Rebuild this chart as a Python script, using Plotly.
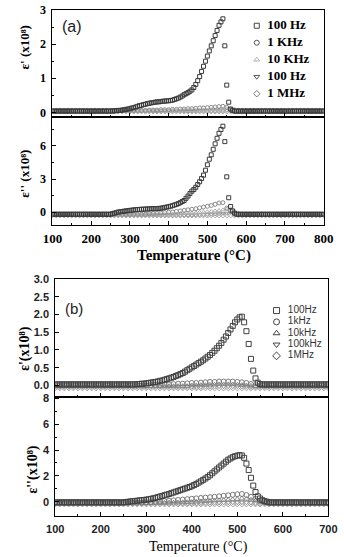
import plotly.graph_objects as go

# ---------------- DATA ----------------
# Temperature grids (°C)
T_a5 = list(range(100, 801, 5))    # panel (a), 100 Hz series
T_a10 = list(range(100, 801, 10))  # panel (a), other frequencies
T_b5 = list(range(100, 701, 5))    # panel (b), 100 Hz series
T_b10 = list(range(100, 701, 10))  # panel (b), other frequencies

freq_a = ["100 Hz", "1 KHz", "10 KHz", "100 Hz", "1 MHz"]
freq_b = ["100Hz", "1kHz", "10kHz", "100kHz", "1MHz"]

# Panel (a)  eps' (x1e8)
a_ep_100 = [
    0.04, 0.04, 0.04, 0.04, 0.04, 0.04, 0.04, 0.04, 0.04, 0.04,
    0.04, 0.04, 0.04, 0.04, 0.04, 0.04, 0.04, 0.04, 0.04, 0.04,
    0.04, 0.04, 0.04, 0.04, 0.04, 0.04, 0.04, 0.04, 0.04, 0.04,
    0.04, 0.04, 0.05, 0.05, 0.06, 0.06, 0.07, 0.08, 0.09, 0.10,
    0.11, 0.13, 0.14, 0.16, 0.18, 0.20, 0.21, 0.23, 0.24, 0.26,
    0.27, 0.28, 0.29, 0.30, 0.31, 0.31, 0.32, 0.33, 0.33, 0.34,
    0.34, 0.35, 0.36, 0.38, 0.40, 0.42, 0.45, 0.48, 0.52, 0.55,
    0.58, 0.62, 0.66, 0.73, 0.82, 0.93, 1.05, 1.20, 1.35, 1.50,
    1.65, 1.80, 1.95, 2.10, 2.25, 2.40, 2.55, 2.65, 2.74, 1.95,
    0.80, 0.30, 0.10, 0.06, 0.04, 0.04, 0.04, 0.04, 0.04, 0.04,
    0.04, 0.04, 0.04, 0.04, 0.04, 0.04, 0.04, 0.04, 0.04, 0.04,
    0.04, 0.04, 0.04, 0.04, 0.04, 0.04, 0.04, 0.04, 0.04, 0.04,
    0.04, 0.04, 0.04, 0.04, 0.04, 0.04, 0.04, 0.04, 0.04, 0.04,
    0.04, 0.04, 0.04, 0.04, 0.04, 0.04, 0.04, 0.04, 0.04, 0.04,
    0.04,
]
a_ep_1k = [
    0.06, 0.06, 0.06, 0.06, 0.06, 0.06, 0.06, 0.06, 0.06, 0.06,
    0.06, 0.06, 0.06, 0.06, 0.06, 0.06, 0.06, 0.06, 0.06, 0.06,
    0.06, 0.06, 0.06, 0.06, 0.06, 0.07, 0.07, 0.07, 0.08, 0.08,
    0.08, 0.09, 0.09, 0.10, 0.10, 0.11, 0.11, 0.12, 0.13, 0.13,
    0.14, 0.15, 0.16, 0.17, 0.18, 0.15, 0.10, 0.07, 0.06, 0.06,
    0.06, 0.06, 0.06, 0.06, 0.06, 0.06, 0.06, 0.06, 0.06, 0.06,
    0.06, 0.06, 0.06, 0.06, 0.06, 0.06, 0.06, 0.06, 0.06, 0.06,
    0.06,
]
a_ep_10k = [
    0.05, 0.05, 0.05, 0.05, 0.05, 0.05, 0.05, 0.05, 0.05, 0.05,
    0.05, 0.05, 0.05, 0.05, 0.05, 0.05, 0.05, 0.05, 0.05, 0.05,
    0.05, 0.05, 0.05, 0.05, 0.05, 0.05, 0.05, 0.05, 0.05, 0.05,
    0.05, 0.05, 0.05, 0.05, 0.06, 0.06, 0.06, 0.06, 0.07, 0.07,
    0.07, 0.08, 0.08, 0.09, 0.10, 0.11, 0.09, 0.07, 0.05, 0.05,
    0.05, 0.05, 0.05, 0.05, 0.05, 0.05, 0.05, 0.05, 0.05, 0.05,
    0.05, 0.05, 0.05, 0.05, 0.05, 0.05, 0.05, 0.05, 0.05, 0.05,
    0.05,
]
a_ep_100k = [
    0.04, 0.04, 0.04, 0.04, 0.04, 0.04, 0.04, 0.04, 0.04, 0.04,
    0.04, 0.04, 0.04, 0.04, 0.04, 0.04, 0.04, 0.04, 0.04, 0.04,
    0.04, 0.04, 0.04, 0.04, 0.04, 0.04, 0.04, 0.04, 0.04, 0.04,
    0.04, 0.04, 0.04, 0.04, 0.04, 0.04, 0.04, 0.04, 0.04, 0.04,
    0.04, 0.04, 0.04, 0.05, 0.05, 0.06, 0.05, 0.04, 0.04, 0.04,
    0.04, 0.04, 0.04, 0.04, 0.04, 0.04, 0.04, 0.04, 0.04, 0.04,
    0.04, 0.04, 0.04, 0.04, 0.04, 0.04, 0.04, 0.04, 0.04, 0.04,
    0.04,
]
a_ep_1M = [
    0.03, 0.03, 0.03, 0.03, 0.03, 0.03, 0.03, 0.03, 0.03, 0.03,
    0.03, 0.03, 0.03, 0.03, 0.03, 0.03, 0.03, 0.03, 0.03, 0.03,
    0.03, 0.03, 0.03, 0.03, 0.03, 0.03, 0.03, 0.03, 0.03, 0.03,
    0.03, 0.03, 0.03, 0.03, 0.03, 0.03, 0.03, 0.03, 0.03, 0.03,
    0.03, 0.03, 0.03, 0.03, 0.03, 0.03, 0.03, 0.03, 0.03, 0.03,
    0.03, 0.03, 0.03, 0.03, 0.03, 0.03, 0.03, 0.03, 0.03, 0.03,
    0.03, 0.03, 0.03, 0.03, 0.03, 0.03, 0.03, 0.03, 0.03, 0.03,
    0.03,
]

# Panel (a)  eps'' (x1e8)
a_epp_100 = [
    -0.2, -0.2, -0.2, -0.2, -0.2, -0.2, -0.2, -0.2, -0.2, -0.2,
    -0.2, -0.2, -0.2, -0.2, -0.2, -0.2, -0.2, -0.2, -0.2, -0.2,
    -0.2, -0.2, -0.2, -0.2, -0.2, -0.2, -0.2, -0.2, -0.2, -0.2,
    -0.2, -0.15, -0.1, -0.05, 0.0, 0.03, 0.05, 0.08, 0.1, 0.12,
    0.15, 0.17, 0.19, 0.21, 0.23, 0.24, 0.25, 0.26, 0.27, 0.28,
    0.29, 0.3, 0.31, 0.31, 0.32, 0.33, 0.34, 0.38, 0.42, 0.45,
    0.48, 0.53, 0.58, 0.64, 0.7, 0.77, 0.85, 0.95, 1.05, 1.25,
    1.45, 1.68, 1.9, 2.05, 2.25, 2.5, 2.75, 3.05, 3.35, 3.8,
    4.3, 4.8, 5.2, 5.7, 6.2, 6.7, 7.15, 7.5, 7.8, 6.4,
    3.2, 1.3, 0.5, 0.1, -0.1, -0.2, -0.2, -0.2, -0.2, -0.2,
    -0.2, -0.2, -0.2, -0.2, -0.2, -0.2, -0.2, -0.2, -0.2, -0.2,
    -0.2, -0.2, -0.2, -0.2, -0.2, -0.2, -0.2, -0.2, -0.2, -0.2,
    -0.2, -0.2, -0.2, -0.2, -0.2, -0.2, -0.2, -0.2, -0.2, -0.2,
    -0.2, -0.2, -0.2, -0.2, -0.2, -0.2, -0.2, -0.2, -0.2, -0.2,
    -0.2,
]
a_epp_1k = [
    -0.2, -0.2, -0.2, -0.2, -0.2, -0.2, -0.2, -0.2, -0.2, -0.2,
    -0.2, -0.2, -0.2, -0.2, -0.2, -0.2, -0.2, -0.2, -0.2, -0.2,
    -0.2, -0.2, -0.2, -0.2, -0.2, -0.15, -0.12, -0.1, -0.08, -0.05,
    -0.02, 0.0, 0.05, 0.1, 0.15, 0.2, 0.25, 0.3, 0.38, 0.45,
    0.52, 0.6, 0.7, 0.82, 0.85, 0.35, 0.1, -0.1, -0.2, -0.2,
    -0.2, -0.2, -0.2, -0.2, -0.2, -0.2, -0.2, -0.2, -0.2, -0.2,
    -0.2, -0.2, -0.2, -0.2, -0.2, -0.2, -0.2, -0.2, -0.2, -0.2,
    -0.2,
]
a_epp_10k = [
    -0.25, -0.25, -0.25, -0.25, -0.25, -0.25, -0.25, -0.25, -0.25, -0.25,
    -0.25, -0.25, -0.25, -0.25, -0.25, -0.25, -0.25, -0.25, -0.25, -0.25,
    -0.25, -0.25, -0.25, -0.25, -0.25, -0.25, -0.25, -0.25, -0.25, -0.25,
    -0.25, -0.2, -0.18, -0.15, -0.12, -0.1, -0.08, -0.05, -0.02, 0.0,
    0.03, 0.06, 0.1, 0.15, 0.2, 0.28, 0.3, 0.1, -0.1, -0.25,
    -0.25, -0.25, -0.25, -0.25, -0.25, -0.25, -0.25, -0.25, -0.25, -0.25,
    -0.25, -0.25, -0.25, -0.25, -0.25, -0.25, -0.25, -0.25, -0.25, -0.25,
    -0.25,
]
a_epp_100k = [
    -0.3, -0.3, -0.3, -0.3, -0.3, -0.3, -0.3, -0.3, -0.3, -0.3,
    -0.3, -0.3, -0.3, -0.3, -0.3, -0.3, -0.3, -0.3, -0.3, -0.3,
    -0.3, -0.3, -0.3, -0.3, -0.3, -0.3, -0.3, -0.3, -0.3, -0.3,
    -0.3, -0.3, -0.3, -0.3, -0.3, -0.3, -0.3, -0.28, -0.26, -0.24,
    -0.22, -0.2, -0.18, -0.15, -0.12, -0.1, -0.05, -0.15, -0.3, -0.3,
    -0.3, -0.3, -0.3, -0.3, -0.3, -0.3, -0.3, -0.3, -0.3, -0.3,
    -0.3, -0.3, -0.3, -0.3, -0.3, -0.3, -0.3, -0.3, -0.3, -0.3,
    -0.3,
]
a_epp_1M = [
    -0.3, -0.3, -0.3, -0.3, -0.3, -0.3, -0.3, -0.3, -0.3, -0.3,
    -0.3, -0.3, -0.3, -0.3, -0.3, -0.3, -0.3, -0.3, -0.3, -0.3,
    -0.3, -0.3, -0.3, -0.3, -0.3, -0.3, -0.3, -0.3, -0.3, -0.3,
    -0.3, -0.3, -0.3, -0.3, -0.3, -0.3, -0.3, -0.3, -0.3, -0.3,
    -0.3, -0.3, -0.3, -0.3, -0.3, -0.3, -0.3, -0.3, -0.3, -0.3,
    -0.3, -0.3, -0.3, -0.3, -0.3, -0.3, -0.3, -0.3, -0.3, -0.3,
    -0.3, -0.3, -0.3, -0.3, -0.3, -0.3, -0.3, -0.3, -0.3, -0.3,
    -0.3,
]

# Panel (b)  eps' (x1e8)
b_ep_100 = [
    0.03, 0.03, 0.03, 0.03, 0.03, 0.03, 0.03, 0.03, 0.03, 0.03,
    0.03, 0.03, 0.03, 0.03, 0.03, 0.03, 0.03, 0.03, 0.03, 0.03,
    0.03, 0.03, 0.03, 0.03, 0.03, 0.03, 0.03, 0.03, 0.03, 0.03,
    0.03, 0.03, 0.03, 0.03, 0.03, 0.03, 0.04, 0.04, 0.05, 0.05,
    0.06, 0.07, 0.08, 0.09, 0.10, 0.11, 0.13, 0.14, 0.16, 0.18,
    0.20, 0.22, 0.24, 0.27, 0.29, 0.32, 0.35, 0.39, 0.43, 0.47,
    0.51, 0.55, 0.59, 0.63, 0.67, 0.71, 0.76, 0.81, 0.86, 0.92,
    0.98, 1.05, 1.12, 1.20, 1.29, 1.38, 1.48, 1.58, 1.68, 1.78,
    1.86, 1.92, 1.94, 1.78, 1.53, 1.17, 0.75, 0.42, 0.20, 0.08,
    0.04, 0.03, 0.03, 0.03, 0.03, 0.03, 0.03, 0.03, 0.03, 0.03,
    0.03, 0.03, 0.03, 0.03, 0.03, 0.03, 0.03, 0.03, 0.03, 0.03,
    0.03, 0.03, 0.03, 0.03, 0.03, 0.03, 0.03, 0.03, 0.03, 0.03,
    0.03,
]
b_ep_1k = [
    0.0, 0.0, 0.0, 0.0, 0.0, 0.0, 0.0, 0.0, 0.0, 0.0,
    0.0, 0.0, 0.0, 0.0, 0.0, 0.0, 0.0, 0.0, 0.0, 0.0,
    0.0, 0.01, 0.02, 0.02, 0.03, 0.03, 0.04, 0.05, 0.05, 0.06,
    0.07, 0.07, 0.08, 0.09, 0.1, 0.1, 0.11, 0.11, 0.11, 0.11,
    0.1, 0.09, 0.07, 0.04, 0.01, 0.0, 0.0, 0.0, 0.0, 0.0,
    0.0, 0.0, 0.0, 0.0, 0.0, 0.0, 0.0, 0.0, 0.0, 0.0,
    0.0,
]
b_ep_10k = [
    -0.02, -0.02, -0.02, -0.02, -0.02, -0.02, -0.02, -0.02, -0.02, -0.02,
    -0.02, -0.02, -0.02, -0.02, -0.02, -0.02, -0.02, -0.02, -0.02, -0.02,
    -0.02, -0.02, -0.02, -0.02, -0.02, -0.02, -0.02, -0.02, -0.02, -0.02,
    0.0, 0.0, 0.01, 0.01, 0.02, 0.02, 0.03, 0.03, 0.03, 0.03,
    0.02, 0.01, 0.0, -0.01, -0.02, -0.02, -0.02, -0.02, -0.02, -0.02,
    -0.02, -0.02, -0.02, -0.02, -0.02, -0.02, -0.02, -0.02, -0.02, -0.02,
    -0.02,
]
b_ep_100k = [
    -0.04, -0.04, -0.04, -0.04, -0.04, -0.04, -0.04, -0.04, -0.04, -0.04,
    -0.04, -0.04, -0.04, -0.04, -0.04, -0.04, -0.04, -0.04, -0.04, -0.04,
    -0.04, -0.04, -0.04, -0.04, -0.04, -0.04, -0.04, -0.04, -0.04, -0.04,
    -0.04, -0.04, -0.04, -0.03, -0.03, -0.03, -0.02, -0.02, -0.02, -0.02,
    -0.02, -0.03, -0.03, -0.04, -0.04, -0.04, -0.04, -0.04, -0.04, -0.04,
    -0.04, -0.04, -0.04, -0.04, -0.04, -0.04, -0.04, -0.04, -0.04, -0.04,
    -0.04,
]
b_ep_1M = [
    -0.06, -0.06, -0.06, -0.06, -0.06, -0.06, -0.06, -0.06, -0.06, -0.06,
    -0.06, -0.06, -0.06, -0.06, -0.06, -0.06, -0.06, -0.06, -0.06, -0.06,
    -0.06, -0.06, -0.06, -0.06, -0.06, -0.06, -0.06, -0.06, -0.06, -0.06,
    -0.06, -0.06, -0.06, -0.06, -0.06, -0.06, -0.06, -0.06, -0.06, -0.06,
    -0.06, -0.06, -0.06, -0.06, -0.06, -0.06, -0.06, -0.06, -0.06, -0.06,
    -0.06, -0.06, -0.06, -0.06, -0.06, -0.06, -0.06, -0.06, -0.06, -0.06,
    -0.06,
]

# Panel (b)  eps'' (x1e8)
b_epp_100 = [
    -0.05, -0.05, -0.05, -0.05, -0.05, -0.05, -0.05, -0.05, -0.05, -0.05,
    -0.05, -0.05, -0.05, -0.05, -0.05, -0.05, -0.05, -0.05, -0.05, -0.05,
    -0.05, -0.05, -0.05, -0.05, -0.05, -0.05, -0.05, -0.05, -0.05, -0.05,
    -0.05, -0.03, 0.0, 0.02, 0.04, 0.06, 0.08, 0.1, 0.12, 0.14,
    0.16, 0.19, 0.22, 0.26, 0.3, 0.35, 0.4, 0.45, 0.5, 0.55,
    0.6, 0.66, 0.72, 0.78, 0.84, 0.9, 0.96, 1.02, 1.08, 1.14,
    1.2, 1.29, 1.38, 1.48, 1.58, 1.69, 1.8, 1.92, 2.05, 2.2,
    2.35, 2.5, 2.65, 2.8, 2.95, 3.1, 3.25, 3.35, 3.45, 3.52,
    3.57, 3.6, 3.58, 3.4, 2.95, 2.45, 1.85, 1.25, 0.75, 0.42,
    0.25, 0.12, 0.05, 0.0, -0.05, -0.05, -0.05, -0.05, -0.05, -0.05,
    -0.05, -0.05, -0.05, -0.05, -0.05, -0.05, -0.05, -0.05, -0.05, -0.05,
    -0.05, -0.05, -0.05, -0.05, -0.05, -0.05, -0.05, -0.05, -0.05, -0.05,
    -0.05,
]
b_epp_1k = [
    -0.08, -0.08, -0.08, -0.08, -0.08, -0.08, -0.08, -0.08, -0.08, -0.08,
    -0.08, -0.08, -0.08, -0.08, -0.08, -0.08, -0.08, -0.08, -0.08, -0.08,
    -0.05, -0.03, 0.0, 0.02, 0.05, 0.08, 0.11, 0.14, 0.17, 0.2,
    0.23, 0.26, 0.29, 0.32, 0.35, 0.38, 0.42, 0.46, 0.5, 0.54,
    0.58, 0.6, 0.52, 0.38, 0.22, 0.08, -0.02, -0.08, -0.08, -0.08,
    -0.08, -0.08, -0.08, -0.08, -0.08, -0.08, -0.08, -0.08, -0.08, -0.08,
    -0.08,
]
b_epp_10k = [
    -0.1, -0.1, -0.1, -0.1, -0.1, -0.1, -0.1, -0.1, -0.1, -0.1,
    -0.1, -0.1, -0.1, -0.1, -0.1, -0.1, -0.1, -0.1, -0.1, -0.1,
    -0.1, -0.1, -0.1, -0.1, -0.1, -0.08, -0.07, -0.06, -0.05, -0.04,
    -0.02, 0.0, 0.02, 0.04, 0.06, 0.08, 0.1, 0.12, 0.14, 0.17,
    0.2, 0.24, 0.22, 0.15, 0.08, 0.0, -0.06, -0.1, -0.1, -0.1,
    -0.1, -0.1, -0.1, -0.1, -0.1, -0.1, -0.1, -0.1, -0.1, -0.1,
    -0.1,
]
b_epp_100k = [
    -0.12, -0.12, -0.12, -0.12, -0.12, -0.12, -0.12, -0.12, -0.12, -0.12,
    -0.12, -0.12, -0.12, -0.12, -0.12, -0.12, -0.12, -0.12, -0.12, -0.12,
    -0.12, -0.12, -0.12, -0.12, -0.12, -0.12, -0.12, -0.12, -0.12, -0.12,
    -0.12, -0.11, -0.1, -0.09, -0.08, -0.07, -0.06, -0.05, -0.05, -0.04,
    -0.04, -0.04, -0.05, -0.07, -0.1, -0.12, -0.12, -0.12, -0.12, -0.12,
    -0.12, -0.12, -0.12, -0.12, -0.12, -0.12, -0.12, -0.12, -0.12, -0.12,
    -0.12,
]
b_epp_1M = [
    -0.15, -0.15, -0.15, -0.15, -0.15, -0.15, -0.15, -0.15, -0.15, -0.15,
    -0.15, -0.15, -0.15, -0.15, -0.15, -0.15, -0.15, -0.15, -0.15, -0.15,
    -0.15, -0.15, -0.15, -0.15, -0.15, -0.15, -0.15, -0.15, -0.15, -0.15,
    -0.15, -0.15, -0.15, -0.15, -0.15, -0.15, -0.15, -0.15, -0.15, -0.15,
    -0.15, -0.15, -0.15, -0.15, -0.15, -0.15, -0.15, -0.15, -0.15, -0.15,
    -0.15, -0.15, -0.15, -0.15, -0.15, -0.15, -0.15, -0.15, -0.15, -0.15,
    -0.15,
]

# ---------------- STYLE ----------------
W, H = 344, 557
SERIF = "Liberation Serif"
SANS = "Liberation Sans"
symbols = ["square-open", "circle-open", "triangle-up-open", "triangle-down-open", "diamond-open"]
colors_a = ["#3a3a3a", "#8a8a8a", "#b0b0b0", "#9a9a9a", "#a8a8a8"]
colors_b = ["#404040", "#7a7a7a", "#8a8a8a", "#999999", "#a0a0a0"]
legend_colors_a = ["#444444", "#555555", "#b0b0b0", "#555555", "#777777"]
legend_colors_b = ["#444444", "#444444", "#444444", "#444444", "#444444"]


def px_x(p):
    return p / W


def px_y(p):
    return 1 - p / H


fig = go.Figure()

# series order: index 0 = 100 Hz ... index 4 = 1 MHz
panels = [
    ([T_a5, T_a10, T_a10, T_a10, T_a10],
     [a_ep_100, a_ep_1k, a_ep_10k, a_ep_100k, a_ep_1M], "x", "y", colors_a, 4, freq_a),
    ([T_a5, T_a10, T_a10, T_a10, T_a10],
     [a_epp_100, a_epp_1k, a_epp_10k, a_epp_100k, a_epp_1M], "x2", "y2", colors_a, 4, freq_a),
    ([T_b5, T_b10, T_b10, T_b10, T_b10],
     [b_ep_100, b_ep_1k, b_ep_10k, b_ep_100k, b_ep_1M], "x3", "y3", colors_b, 5, freq_b),
    ([T_b5, T_b10, T_b10, T_b10, T_b10],
     [b_epp_100, b_epp_1k, b_epp_10k, b_epp_100k, b_epp_1M], "x4", "y4", colors_b, 5, freq_b),
]
for pi, (xs, ys, xa, ya, cols, msize, names) in enumerate(panels):
    for idx in [4, 3, 2, 1, 0]:  # draw 100 Hz last (on top)
        xv = xs[idx]
        yv = ys[idx]
        assert len(xv) == len(yv), (pi, idx, len(xv), len(yv))
        fig.add_trace(go.Scatter(
            x=xv, y=yv, mode="markers", name=names[idx], xaxis=xa, yaxis=ya,
            showlegend=False,
            marker=dict(symbol=symbols[idx], size=msize, color=cols[idx],
                        line=dict(width=1, color=cols[idx])),
        ))

# Legends (drawn as marker/text rows on hidden overlay axes)
rows = list(range(len(freq_a)))
fig.add_trace(go.Scatter(x=[0] * len(rows), y=rows, mode="markers", xaxis="x5", yaxis="y5",
                         showlegend=False, cliponaxis=False,
                         marker=dict(symbol=symbols, size=5, color=legend_colors_a,
                                     line=dict(width=1, color=legend_colors_a))))
fig.add_trace(go.Scatter(x=[1] * len(rows), y=rows, mode="text", text=freq_a,
                         textposition="middle right", xaxis="x5", yaxis="y5",
                         showlegend=False, cliponaxis=False,
                         textfont=dict(family=SERIF, size=13, color="black", weight="bold")))
fig.add_trace(go.Scatter(x=[0] * len(rows), y=rows, mode="markers", xaxis="x6", yaxis="y6",
                         showlegend=False, cliponaxis=False,
                         marker=dict(symbol=symbols, size=6, color=legend_colors_b,
                                     line=dict(width=1, color=legend_colors_b))))
fig.add_trace(go.Scatter(x=[1] * len(rows), y=rows, mode="text", text=freq_b,
                         textposition="middle right", xaxis="x6", yaxis="y6",
                         showlegend=False, cliponaxis=False,
                         textfont=dict(family=SANS, size=10, color="#333333")))

# ---------------- AXES ----------------
common = dict(showgrid=False, zeroline=False, showline=True, linecolor="black", linewidth=1,
              mirror=True, ticks="inside", ticklen=4, tickwidth=1, tickcolor="black")

xa_dom = [px_x(45), px_x(333)]
xb_dom = [px_x(48), px_x(338)]
tick_a = dict(family=SERIF, size=13, color="black", weight="bold")

fig.update_layout(
    width=W, height=H, margin=dict(l=0, r=0, t=0, b=0),
    paper_bgcolor="white", plot_bgcolor="white", showlegend=False,
    xaxis=dict(domain=xa_dom, anchor="y", range=[100, 800], dtick=100, tick0=0,
               showticklabels=False, minor=dict(ticks="inside", ticklen=2, dtick=50, tick0=0), **common),
    yaxis=dict(domain=[px_y(113), px_y(4)], anchor="x", range=[-0.144, 3], dtick=1, tick0=0,
               tickfont=dict(family=SERIF, size=12, color="black", weight="bold"),
               ticklabelstandoff=3,
               minor=dict(ticks="inside", ticklen=2, dtick=0.5, tick0=0), **common),
    xaxis2=dict(domain=xa_dom, anchor="y2", range=[100, 800], dtick=100, tick0=0,
                tickfont=tick_a, ticklabelstandoff=2,
                minor=dict(ticks="inside", ticklen=2, dtick=50, tick0=0), **common),
    yaxis2=dict(domain=[px_y(222), px_y(113)], anchor="x2", range=[-1.16, 8.6], dtick=3, tick0=0,
                tickfont=dict(family=SERIF, size=12, color="black", weight="bold"),
                ticklabelstandoff=3,
                minor=dict(ticks="inside", ticklen=2, dtick=1.5, tick0=0), **common),
    xaxis3=dict(domain=xb_dom, anchor="y3", range=[100, 700], dtick=100, tick0=0,
                showticklabels=False, minor=dict(ticks="inside", ticklen=2, dtick=50, tick0=0), **common),
    yaxis3=dict(domain=[px_y(397), px_y(277)], anchor="x3", range=[-0.333, 3.0], dtick=0.5, tick0=0,
                tickformat=".1f", tickfont=dict(family=SANS, size=11, color="#222222", weight="bold"),
                ticklabelstandoff=3, **common),
    xaxis4=dict(domain=xb_dom, anchor="y4", range=[100, 700], dtick=100, tick0=0,
                tickfont=dict(family=SANS, size=11, color="#222222", weight="bold"), ticklabelstandoff=3,
                minor=dict(ticks="inside", ticklen=2, dtick=50, tick0=0), **common),
    yaxis4=dict(domain=[px_y(517), px_y(397)], anchor="x4", range=[-1.07, 8.08], dtick=2, tick0=0,
                tickfont=dict(family=SANS, size=11, color="#222222", weight="bold"),
                ticklabelstandoff=3,
                minor=dict(ticks="inside", ticklen=2, dtick=1, tick0=0), **common),
    xaxis5=dict(domain=[px_x(262), px_x(273)], anchor="y5", range=[0, 1], visible=False, fixedrange=True),
    yaxis5=dict(domain=[px_y(97.6), px_y(11.4)], anchor="x5", range=[4.5, -0.5], visible=False, fixedrange=True),
    xaxis6=dict(domain=[px_x(283), px_x(295)], anchor="y6", range=[0, 1], visible=False, fixedrange=True),
    yaxis6=dict(domain=[px_y(360.75), px_y(303.25)], anchor="x6", range=[4.5, -0.5], visible=False, fixedrange=True),
)

ann = [
    dict(text="(a)", x=px_x(66), y=px_y(21), font=dict(family=SANS, size=16, color="#222222")),
    dict(text="(b)", x=px_x(68), y=px_y(307), font=dict(family=SANS, size=15, color="#222222")),
    dict(text="Temperature (°C)", x=px_x(195), y=px_y(253),
         font=dict(family=SERIF, size=15, color="black", weight="bold")),
    dict(text="Temperature (°C)", x=px_x(200), y=px_y(549),
         font=dict(family=SERIF, size=14, color="black")),
    dict(text="ε' (x10⁸)", x=px_x(15), y=px_y(42), textangle=-90,
         font=dict(family=SERIF, size=13, color="black", weight="bold")),
    dict(text="ε'' (x10⁸)", x=px_x(15), y=px_y(170), textangle=-90,
         font=dict(family=SERIF, size=13, color="black", weight="bold")),
    dict(text="ε'(x10⁸)", x=px_x(16), y=px_y(348), textangle=-90,
         font=dict(family=SERIF, size=14, color="black", weight="bold")),
    dict(text="ε''(x10⁸)", x=px_x(25), y=px_y(470), textangle=-90,
         font=dict(family=SERIF, size=14, color="black", weight="bold")),
]
for a in ann:
    a.update(xref="paper", yref="paper", showarrow=False, xanchor="center", yanchor="middle")
fig.update_layout(annotations=ann)

fig.write_html("out.html")
